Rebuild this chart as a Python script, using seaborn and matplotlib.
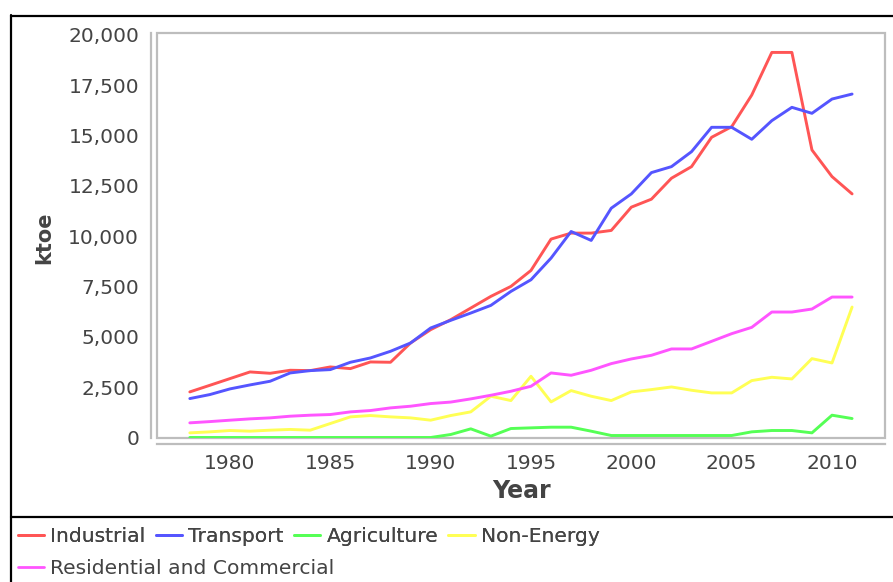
"""
Final energy consumption by sector (ktoe), 1978-2011.
"""

import pandas as pd
import matplotlib
matplotlib.use('Agg')
import matplotlib.pyplot as plt
from matplotlib.lines import Line2D
from matplotlib.patches import Rectangle
from matplotlib.ticker import StrMethodFormatter, MultipleLocator
import seaborn as sns

# Data
years = list(range(1978, 2012))
sectors = ['Industrial', 'Transport', 'Agriculture', 'Non-Energy',
           'Residential and Commercial']

industrial = [2265, 2594, 2926, 3257, 3190, 3340, 3323, 3505, 3422, 3753,
              3737, 4696, 5357, 5853, 6431, 7010, 7506, 8300, 9857, 10154,
              10154, 10286, 11443, 11839, 12881, 13456, 14914, 15440, 17013,
              19130, 19130, 14285, 12961, 12102]
transport = [1934, 2133, 2414, 2612, 2794, 3207, 3323, 3373, 3737, 3952,
             4283, 4696, 5440, 5820, 6183, 6563, 7258, 7837, 8913, 10234,
             9790, 11392, 12102, 13159, 13456, 14200, 15410, 15410, 14815,
             15740, 16402, 16105, 16814, 17062]
agriculture = [0, 0, 0, 0, 0, 0, 0, 0, 0, 0, 0, 0, 0, 149, 430, 66, 446,
               479, 512, 512, 314, 99, 99, 99, 99, 99, 99, 99, 281, 347, 347,
               231, 1108, 942]
non_energy = [231, 280, 347, 315, 364, 400, 364, 694, 1025, 1091, 1025, 975,
              860, 1091, 1273, 2050, 1835, 3042, 1769, 2330, 2050, 1835, 2265,
              2380, 2512, 2347, 2215, 2215, 2827, 2992, 2909, 3918, 3703, 6481]
residential = [728, 790, 860, 926, 975, 1058, 1108, 1141, 1273, 1339, 1471,
               1554, 1686, 1760, 1918, 2098, 2297, 2545, 3207, 3092, 3340,
               3670, 3902, 4084, 4399, 4399, 4778, 5158, 5472, 6233, 6233,
               6382, 6977, 6977]

colors = ['#ff5555', '#5555ff', '#55ff55', '#ffff55', '#ff55ff']

# Long-form table for seaborn
series = [industrial, transport, agriculture, non_energy, residential]
df = pd.concat([
    pd.DataFrame({'Year': years, 'ktoe': vals, 'Sector': name})
    for name, vals in zip(sectors, series)
], ignore_index=True)
palette = dict(zip(sectors, colors))

sns.set_style('white')
plt.rcParams['font.family'] = ['DejaVu Sans']

text_gray = '#444444'
line_gray = '#bdbdbd'

fig = plt.figure(figsize=(8.93, 5.82), dpi=100)
fig.patch.set_facecolor('white')
W, H = 893.0, 582.0
ax = fig.add_axes([157.3 / W, 1 - 437.5 / H, (885 - 157.3) / W, (437.5 - 33.3) / H])

sns.lineplot(data=df, x='Year', y='ktoe', hue='Sector', palette=palette,
             linewidth=2.1, ax=ax, legend=False)

ax.set_xlim(1976.38, 2012.64)
ax.set_ylim(0, 20080)
ax.xaxis.set_major_locator(MultipleLocator(5))
ax.yaxis.set_major_locator(MultipleLocator(2500))
ax.yaxis.set_major_formatter(StrMethodFormatter('{x:,.0f}'))

# Plot frame plus offset axis lines (JFreeChart look)
for side in ['top', 'right']:
    ax.spines[side].set_visible(False)
for side in ['left', 'bottom']:
    ax.spines[side].set_color(line_gray)
    ax.spines[side].set_linewidth(1.6)
ax.spines['left'].set_position(('outward', 4.6))
ax.spines['bottom'].set_position(('outward', 5.0))
ax.add_patch(Rectangle((0, 0), 1, 1, transform=ax.transAxes, fill=False,
                       edgecolor=line_gray, lw=1.6, clip_on=False))

ax.tick_params(axis='both', length=2.2, width=1, color='#a0a0a0',
               labelcolor=text_gray, labelsize=14.5, direction='out')
ax.tick_params(axis='y', pad=6.3)
ax.tick_params(axis='x', pad=5)

ax.set_xlabel('Year', fontsize=17, fontweight='bold', color=text_gray)
ax.set_ylabel('ktoe', fontsize=15, fontweight='bold', color=text_gray)
ax.xaxis.set_label_coords(0.5008, -0.1324)
ax.xaxis.label.set_va('center')
ax.yaxis.set_label_coords(-0.1557, 0.4946)
ax.yaxis.label.set_va('center')

# Outer black frame and legend separator
for xs, ys in [([11 / W, 11 / W], [0, 1 - 15 / H]),
               ([11 / W, 1], [1 - 16 / H, 1 - 16 / H]),
               ([11 / W, 1], [1 - 516.5 / H, 1 - 516.5 / H])]:
    fig.add_artist(Line2D(xs, ys, color='black', lw=1.6))

# Legend laid out in flow rows like the original
handles = [Line2D([], [], color=c, lw=2.0) for c in colors]
leg_kw = dict(loc='center left', frameon=False, borderpad=0, borderaxespad=0,
              handlelength=1.3, handletextpad=0.3, columnspacing=0.5,
              fontsize=14.6, labelcolor=text_gray)
leg1 = fig.legend(handles[:4], sectors[:4], ncol=4,
                  bbox_to_anchor=(18 / W, 1 - 537 / H), **leg_kw)
fig.add_artist(leg1)
fig.legend(handles[4:], sectors[4:], ncol=1,
           bbox_to_anchor=(18 / W, 1 - 569 / H), **leg_kw)

fig.savefig('out.png', dpi=100, facecolor='white')
